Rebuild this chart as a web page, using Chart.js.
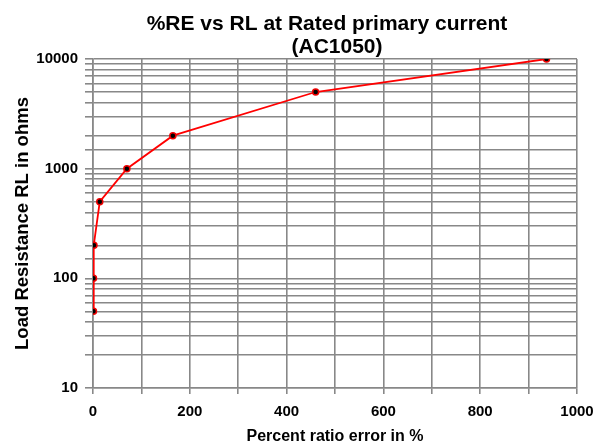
<!DOCTYPE html>
<html>
<head>
<meta charset="utf-8">
<script src="https://cdn.jsdelivr.net/npm/chart.js@4"></script>
<style>
    body { margin: 0; background: #fff; }
    #wrap { width: 613px; height: 447px; }
</style>
</head>
<body>
<div id="wrap"><canvas id="reChart" width="613" height="447"></canvas></div>
<script>
// Dati
const ratioError = [1, 1, 2, 14, 70, 165, 460, 937];
const loadResistance = [50, 100, 200, 500, 1000, 2000, 5000, 10000];
const yMajorLabels = [10, 100, 1000, 10000];
const xLabelStep = 200;
const titleLines = ['%RE vs RL at Rated primary current', '(AC1050)'];

const gridColor = '#888888';
const fontFamily = '"Liberation Sans", Arial, sans-serif';

const points = ratioError.map(function(x, i) {
    return { x: x, y: loadResistance[i] };
});

// Titolo centrato sull'area del grafico (come nell'originale)
const centeredTitle = {
    id: 'centeredTitle',
    afterDraw: function(chart) {
        const c = chart.ctx;
        const area = chart.chartArea;
        const cx = (area.left + area.right) / 2;
        c.save();
        c.fillStyle = '#000';
        c.font = 'bold 21px ' + fontFamily;
        c.textAlign = 'center';
        c.textBaseline = 'middle';
        c.fillText(titleLines[0], cx - 8, 24);
        c.fillText(titleLines[1], cx + 2, 47);
        c.restore();
    }
};

const ctx = document.getElementById('reChart').getContext('2d');
new Chart(ctx, {
    type: 'line',
    data: {
        datasets: [{
            label: '%RE',
            data: points,
            borderColor: '#ff0000',
            borderWidth: 1.8,
            pointBackgroundColor: '#000000',
            pointBorderColor: '#ee0000',
            pointBorderWidth: 1.5,
            pointRadius: 3,
            tension: 0,
            fill: false
        }]
    },
    plugins: [centeredTitle],
    options: {
        responsive: false,
        animation: false,
        layout: {
            padding: { left: 0, right: 36, top: 59, bottom: 0 }
        },
        plugins: {
            legend: { display: false },
            tooltip: { enabled: false },
            title: { display: false }
        },
        scales: {
            x: {
                type: 'linear',
                min: 0,
                max: 1000,
                ticks: {
                    stepSize: 100,
                    autoSkip: false,
                    maxRotation: 0,
                    color: '#000',
                    font: { family: fontFamily, size: 15, weight: 'bold' },
                    padding: 9,
                    callback: function(value) {
                        return value % xLabelStep === 0 ? value : '';
                    }
                },
                grid: { color: gridColor, lineWidth: 1.6, tickLength: 6 },
                border: { color: gridColor, width: 1.6 },
                title: {
                    display: true,
                    text: 'Percent ratio error in %',
                    color: '#000',
                    font: { family: fontFamily, size: 16, weight: 'bold' },
                    padding: { top: 0, bottom: 1 }
                },
                afterFit: function(scale) {
                    scale.height = 59;
                }
            },
            y: {
                type: 'logarithmic',
                min: 10,
                max: 10000,
                ticks: {
                    autoSkip: false,
                    color: '#000',
                    font: { family: fontFamily, size: 15, weight: 'bold' },
                    padding: 7,
                    callback: function(value) {
                        return yMajorLabels.indexOf(value) >= 0 ? String(value) : '';
                    }
                },
                grid: { color: gridColor, lineWidth: 1.6, tickLength: 8 },
                border: { color: gridColor, width: 1.6 },
                title: {
                    display: true,
                    text: 'Load Resistance RL in ohms',
                    color: '#000',
                    font: { family: fontFamily, size: 18.5, weight: 'bold' },
                    padding: { top: 12, bottom: 0 }
                },
                afterFit: function(scale) {
                    scale.width = 93;
                }
            }
        }
    }
});
</script>
</body>
</html>
